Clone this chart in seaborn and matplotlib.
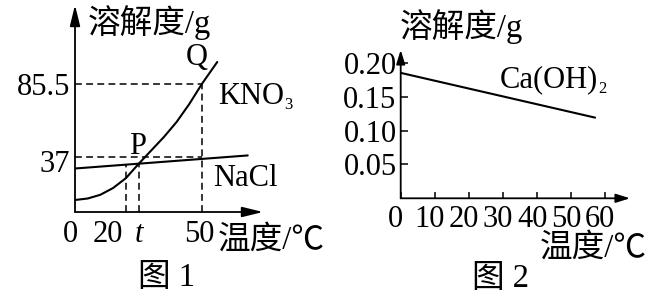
import numpy as np
import matplotlib
matplotlib.use('Agg')
import matplotlib.pyplot as plt
from matplotlib.transforms import ScaledTranslation
import seaborn as sns

# ---------------- data : figure 1 ----------------
kno3_temp = [0, 5, 10, 15, 20, 25, 30, 35, 40, 45, 50, 56]
kno3_sol = [8, 9, 11.5, 16, 22.5, 32, 41, 50, 60, 72, 85.5, 100]
nacl_temp = [0, 68]
nacl_sol = [29, 37.7]
t_value = 25
p_sol = 32
q_temp, q_sol = 50, 85.5
nacl_ref_sol = 37
fig1_xticks = [0, 20, t_value, 50]
fig1_xticklabels = ['0', '20', 't', '50']
fig1_yticks = [37, 85.5]
fig1_yticklabels = ['37', '85.5']

# ---------------- data : figure 2 ----------------
caoh2_temp = [0, 57]
caoh2_sol = [0.185, 0.119]
fig2_xticks = [0, 10, 20, 30, 40, 50, 60]
fig2_xticklabels = ['0', '10', '20', '30', '40', '50', '60']
fig2_yticks = [0.05, 0.10, 0.15, 0.20]
fig2_yticklabels = ['0.05', '0.10', '0.15', '0.20']

sns.set_theme(style='white')
plt.rcParams['font.family'] = ['Liberation Serif', 'Noto Sans CJK SC']

NUM = 22   # Latin / digits
CJK = 23.5 # Chinese
SUB = 12   # subscripts

W, H = 655, 301
fig = plt.figure(figsize=(W / 100, H / 100), dpi=100, facecolor='white')

def box(l, t, r, b):
    return [l / W, 1 - b / H, (r - l) / W, (b - t) / H]

def ftext(x, y, s, size=NUM, ha='left', va='center', **kw):
    return fig.text(x / W, 1 - y / H, s, fontsize=size, ha=ha, va=va,
                    family=['Liberation Serif', 'Noto Sans CJK SC'], color='black', **kw)

def subscript(ax, parent, s):
    ax.annotate(s, xy=(1, 0), xycoords=parent, xytext=(0.3, -1.5),
                textcoords='offset points', fontsize=SUB, ha='left', va='bottom',
                family='Liberation Serif', color='black', annotation_clip=False)

def shift(label, dx_px, dy_px=0):
    label.set_transform(label.get_transform() +
                        ScaledTranslation(dx_px / 100, dy_px / 100, fig.dpi_scale_trans))

def axis_arrows(ax, lw, hl, hw, ms):
    style = f'-|>,head_length={hl},head_width={hw}'
    for end in [(1, 0), (0, 1)]:
        ax.annotate('', xy=end, xytext=(0, 0), xycoords='axes fraction',
                    textcoords='axes fraction',
                    arrowprops=dict(arrowstyle=style, lw=lw, color='black',
                                    shrinkA=0, shrinkB=0, mutation_scale=ms),
                    annotation_clip=False)

dash = (0, (4.5, 2.8))

# ================= figure 1 =================
ax1 = fig.add_axes(box(75, 5, 263, 212))
ax1.set_facecolor('white')
ax1.set_xlim(0, (263 - 75) / 2.54)
ax1.set_ylim(0, (212 - 5) / 1.5)
for s in ax1.spines.values():
    s.set_visible(False)

sns.lineplot(x=kno3_temp, y=kno3_sol, ax=ax1, color='black', linewidth=1.5, sort=False)
sns.lineplot(x=nacl_temp, y=nacl_sol, ax=ax1, color='black', linewidth=1.5, sort=False)

nacl_at_20 = np.interp(20, nacl_temp, nacl_sol)
dl = dict(color='black', linewidth=1.1, linestyle=dash)
ax1.plot([0, q_temp], [q_sol, q_sol], **dl)
ax1.plot([q_temp, q_temp], [0, q_sol], **dl)
ax1.plot([0, q_temp], [nacl_ref_sol, nacl_ref_sol], **dl)
ax1.plot([20, 20], [0, nacl_at_20], **dl)
ax1.plot([t_value, t_value], [0, p_sol], **dl)

axis_arrows(ax1, 1.3, 0.9, 0.22, 14)

ax1.set_xticks(fig1_xticks)
ax1.set_xticklabels(fig1_xticklabels)
ax1.set_yticks(fig1_yticks)
ax1.set_yticklabels(fig1_yticklabels)
ax1.tick_params(axis='both', length=0, labelsize=NUM, colors='black')
ax1.tick_params(axis='y', pad=3.5)
ax1.tick_params(axis='x', pad=6)
xl = ax1.get_xticklabels()
xl[2].set_fontstyle('italic')
for lab, dx in zip(xl, [-5, -18, 0, -3]):
    shift(lab, dx)
yl = ax1.get_yticklabels()
shift(yl[0], 0, -4)
ax1.grid(False)

ftext(88, 23, '溶解度/g', size=CJK)
ftext(197, 57, 'Q', ha='center')
kno = ftext(218, 96, 'KNO')
subscript(ax1, kno, '3')
ftext(138, 146, 'P', ha='center')
ftext(213, 179, 'NaCl')
ftext(218, 240, '温度/℃', size=CJK)
ftext(167, 278, '图 1', size=CJK, ha='center')

# ================= figure 2 =================
ax2 = fig.add_axes(box(400.7, 50, 630, 198.3))
ax2.set_facecolor('white')
ax2.set_xlim(0, (630 - 400.7) / 3.41)
ax2.set_ylim(0, (198.3 - 50) / 678)
for s in ax2.spines.values():
    s.set_visible(False)

sns.lineplot(x=caoh2_temp, y=caoh2_sol, ax=ax2, color='black', linewidth=1.5, sort=False)

axis_arrows(ax2, 1.3, 0.7, 0.22, 12)

ax2.set_xticks(fig2_xticks)
ax2.set_xticklabels(fig2_xticklabels)
ax2.set_yticks(fig2_yticks)
ax2.set_yticklabels(fig2_yticklabels)
ax2.tick_params(axis='both', direction='in', colors='black', labelsize=NUM, width=1.1)
ax2.tick_params(axis='y', length=5, pad=3, left=True)
ax2.tick_params(axis='x', length=4, pad=5, bottom=True)
for lab in ax2.get_xticklabels():
    shift(lab, -5)
ax2.grid(False)

ftext(400, 27, '溶解度/g', size=CJK)
caoh = ftext(500, 80, 'Ca(OH)')
subscript(ax2, caoh, '2')
ftext(540, 248, '温度/℃', size=CJK)
ftext(501, 279, '图 2', size=CJK, ha='center')

fig.savefig('out.png', dpi=100, facecolor='white')
